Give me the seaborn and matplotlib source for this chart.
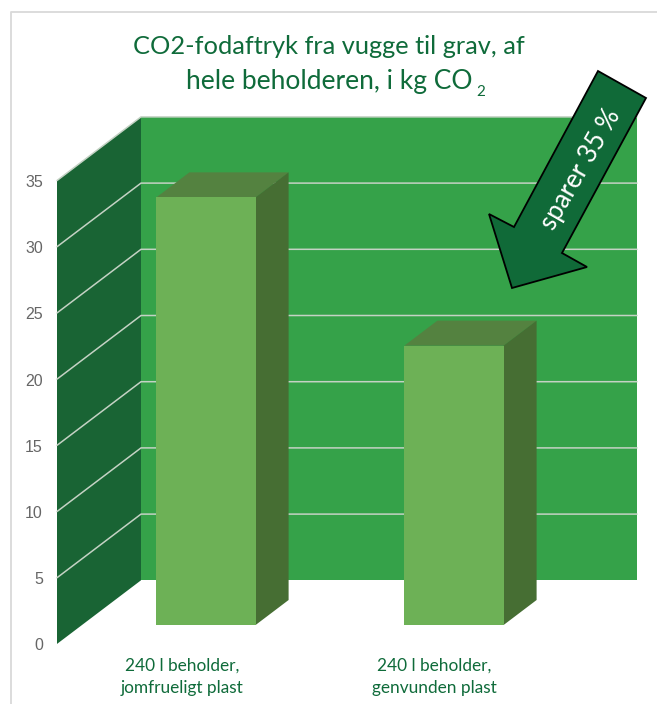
import matplotlib
matplotlib.use("Agg")
import matplotlib.pyplot as plt
from matplotlib.patches import Polygon
from matplotlib.lines import Line2D
import pandas as pd
import seaborn as sns

W, H = 657, 704

# data
categories = ["240 l beholder,\njomfrueligt plast", "240 l beholder,\ngenvunden plast"]
co2_values = [32.3, 21.1]
y_ticks = [0, 5, 10, 15, 20, 25, 30, 35]

GREEN_TEXT = "#0f6b3a"
BACK_WALL = "#35a249"
SIDE_WALL = "#196434"
GRID = "#c4d2c4"
BAR_FRONT = "#6db156"
BAR_TOP = "#548240"
BAR_SIDE = "#466e33"
ARROW = "#106a38"

sns.set_theme(style="white")
plt.rcParams["font.family"] = ["Lato", "DejaVu Sans"]

fig = plt.figure(figsize=(W / 100, H / 100), dpi=100)

# the axes is the plane of the bar fronts, everything else is sheared from it
PLOT_H = 463.4
ax = fig.add_axes([82 / W, 1 - 625 / H, 496 / W, PLOT_H / H])

df = pd.DataFrame({"beholder": categories, "co2": co2_values})
sns.barplot(data=df, x="beholder", y="co2", color=BAR_FRONT, width=0.4,
            saturation=1, ax=ax)
ax.set_xlim(-0.5, 1.5)
ax.set_ylim(0, 35)
ax.axis("off")

# one bar depth is 33 px right and 25 px up
DX = 33 / 248
DY = 25 / (PLOT_H / 35)
FRONT = -25 / 33
BACK = 59 / 33
LEFT = -0.5
RIGHT = 1.5


def proj(x, y, d):
    return (x + d * DX, y + d * DY)


def face(points, color, z):
    ax.add_patch(Polygon(points, closed=True, facecolor=color, edgecolor="none",
                         clip_on=False, zorder=z))


# walls
face([proj(LEFT, 0, FRONT), proj(LEFT, 35, FRONT), proj(LEFT, 35, BACK), proj(LEFT, 0, BACK)], SIDE_WALL, 0.2)
face([proj(LEFT, 0, BACK), proj(LEFT, 35, BACK), proj(RIGHT, 35, BACK), proj(RIGHT, 0, BACK)], BACK_WALL, 0.2)

# gridlines and value labels
for v in y_ticks:
    if v > 0:
        pts = [proj(LEFT, v, FRONT), proj(LEFT, v, BACK), proj(RIGHT, v, BACK)]
        ax.add_line(Line2D([p[0] for p in pts], [p[1] for p in pts], color=GRID,
                           lw=1.1, clip_on=False, zorder=0.5))
    ax.annotate(str(v), proj(LEFT, v, FRONT), xytext=(-14, -2), textcoords="offset pixels",
                ha="right", va="center", fontsize=11.5, color="#666666",
                family=["Liberation Sans"], annotation_clip=False)

# bar top and side faces
for patch in list(ax.patches):
    if patch.get_zorder() < 1 or not patch.get_width():
        continue
    x0 = patch.get_x()
    x1 = x0 + patch.get_width()
    top = patch.get_height()
    patch.set_zorder(3)
    patch.set_edgecolor("none")
    face([proj(x0, top, 0), proj(x0, top, 1), proj(x1, top, 1), proj(x1, top, 0)], BAR_TOP, 2)
    face([proj(x1, 0, 0), proj(x1, top, 0), proj(x1, top, 1), proj(x1, 0, 1)], BAR_SIDE, 2)


def fx(x):
    return x / W


def fy(y):
    return 1 - y / H


# chart border, only left and top are visible
fig.add_artist(Line2D([fx(10.5), fx(10.5), fx(W)], [0, fy(11.5), fy(11.5)], color="#d9d9d9", lw=1.3))

# title
fig.text(fx(329), fy(54), "CO2-fodaftryk fra vugge til grav, af", ha="center", va="baseline",
         fontsize=18.3, color=GREEN_TEXT)
fig.text(fx(186), fy(89), "hele beholderen, i kg CO", ha="left", va="baseline",
         fontsize=19, color=GREEN_TEXT)
fig.text(fx(476), fy(96), "2", ha="left", va="baseline", fontsize=11, color=GREEN_TEXT)

# category labels
for cx, label in zip([182, 434], categories):
    fig.text(fx(cx), fy(677), label, ha="center", va="center", fontsize=12.4,
             color=GREEN_TEXT, linespacing=1.5)

# arrow and its label
arrow_px = [(598, 71), (646, 98), (562, 253), (587, 267), (512, 288), (489, 214), (514, 227)]
fig.add_artist(Polygon([(fx(x), fy(y)) for x, y in arrow_px], closed=True, facecolor=ARROW,
                       edgecolor="black", lw=1.3, transform=fig.transFigure))
fig.text(fx(581), fy(169), "sparer 35 %", rotation=60, rotation_mode="anchor", ha="center",
         va="center", fontsize=18.5, color="white")

fig.savefig("out.png", dpi=100)
